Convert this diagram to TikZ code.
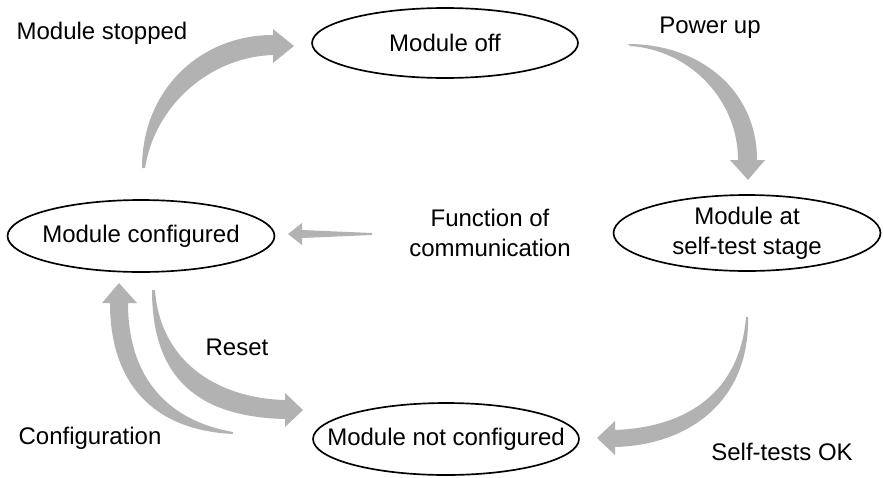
\documentclass[tikz,border=0pt]{standalone}
\usepackage{fontspec}
\setmainfont{Liberation Sans}

\tikzset{
  bigarrow/.style={fill=black!30, draw=none},
  state/.style={draw, line width=0.95pt},
  lbl/.style={font=\fontsize{13.66}{17}\selectfont, inner sep=0pt, align=center}
}

\begin{document}
\begin{tikzpicture}[x=0.02cm, y=-0.02cm]
  \useasboundingbox (0,0) rectangle (884,477);
  \def\rx{2.66cm}

  % States
  \node[lbl] (off) at (445,43) {Module off};
  \node[lbl] (selftest) at (747,233) {Module at\\self-test stage};
  \node[lbl] (configured) at (141,236) {Module configured};
  \node[lbl] (notconf) at (446,439) {Module not configured};

  \draw[state] (off.center) ellipse [x radius=\rx, y radius=0.7cm];
  \draw[state] (selftest.center) ellipse [x radius=2.67cm, y radius=0.76cm];
  \draw[state] (configured.center) ellipse [x radius=2.67cm, y radius=0.72cm];
  \draw[state] (notconf.center) ellipse [x radius=\rx, y radius=0.72cm];

  % Transitions
  \fill[bigarrow] (142,168) .. controls (142,90) and (200,35) .. (273,35)
    -- (273,29) -- (294,46) -- (273,63) -- (273,55)
    .. controls (210,57) and (155,105) .. (145,168) -- cycle;
  \fill[bigarrow] (628,44) .. controls (700,44) and (757,90) .. (757,160)
    -- (765,160) -- (748,180) -- (730,160) -- (738,160)
    .. controls (738,100) and (690,50) .. (630,46) -- cycle;
  \fill[bigarrow] (748,317) .. controls (750,400) and (690,445) .. (615,447)
    -- (615,455) -- (597,438) -- (615,421) -- (615,430)
    .. controls (690,427) and (740,390) .. (746,317) -- cycle;
  \fill[bigarrow] (152,290) .. controls (152,380) and (200,417) .. (285,419)
    -- (285,427) -- (303,410) -- (285,393) -- (285,400)
    .. controls (215,398) and (160,360) .. (155,290) -- cycle;
  \fill[bigarrow] (233,434) .. controls (150,430) and (110,380) .. (110,303)
    -- (102,303) -- (119,283) -- (137,303) -- (128,303)
    .. controls (128,375) and (165,420) .. (233,432) -- cycle;
  \fill[bigarrow] (372,233) -- (302,230) -- (302,223) -- (288,234)
    -- (302,245) -- (302,238) -- (372,235) -- cycle;

  % Labels
  \node[lbl] (stopped) at (102,33) {Module stopped};
  \node[lbl] (powerup) at (710,28) {Power up};
  \node[lbl] (function) at (490,233) {Function of\\communication};
  \node[lbl] (reset) at (237,347) {Reset};
  \node[lbl] (configuration) at (90,438) {Configuration};
  \node[lbl] (selftestok) at (782,452) {Self-tests OK};
\end{tikzpicture}
\end{document}
